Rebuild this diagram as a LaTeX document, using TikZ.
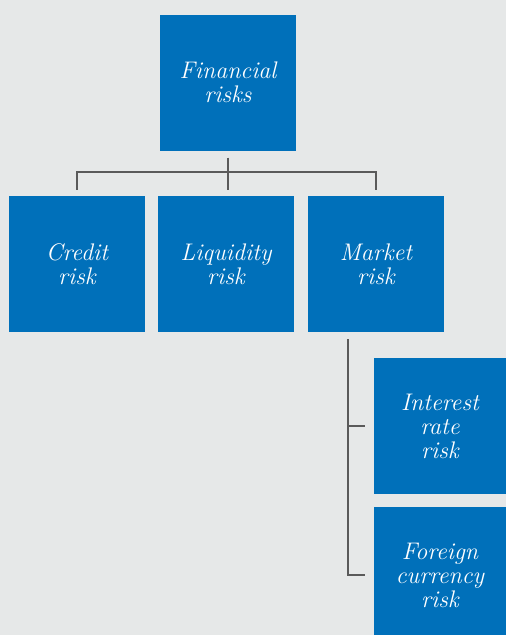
\documentclass[tikz,border=0pt]{standalone}
\definecolor{bg}{HTML}{E6E8E8}
\definecolor{boxblue}{HTML}{0070BA}
\definecolor{linegray}{HTML}{5A5A5A}
\begin{document}
\begin{tikzpicture}[x=1pt,y=-1pt,
  riskbox/.style={fill=boxblue,text=white,inner sep=0pt,align=center,
    minimum width=136pt,minimum height=136pt,
    font=\fontsize{24}{24}\selectfont\itshape},
  link/.style={draw=linegray,line width=2pt}]
\fill[bg] (0,0) rectangle (506,635);
\useasboundingbox (0,0) rectangle (506,635);
\node[riskbox] (fin) at (228,82.5) {Financial\\risks};
\node[riskbox] (cred) at (77,264) {Credit\\risk};
\node[riskbox] (liq) at (226,264) {Liquidity\\risk};
\node[riskbox] (mkt) at (376,264) {Market\\risk};
\node[riskbox,minimum width=132pt] (int) at (440,426) {Interest\\rate\\risk};
\node[riskbox,minimum width=132pt,minimum height=128pt] (for) at (440,571) {};
\node[font=\fontsize{24}{24}\selectfont\itshape,text=white,align=center,inner sep=0pt] (fortext) at (440,575) {Foreign\\currency\\risk};
\coordinate (split) at (fin.south |- 0,172);
\draw[link] ([yshift=-7pt]fin.south) -- ([yshift=6pt]fin.south |- liq.north);
\draw[link] ([yshift=6pt]cred.north) |- (split) -| ([yshift=6pt]mkt.north);
\coordinate (mb) at ([xshift=-28pt,yshift=-7pt]mkt.south);
\draw[link] (mb) |- ([xshift=-9pt]int.west);
\draw[link] (mb) |- ([xshift=-9pt]fortext.west -| int.west);
\end{tikzpicture}
\end{document}
